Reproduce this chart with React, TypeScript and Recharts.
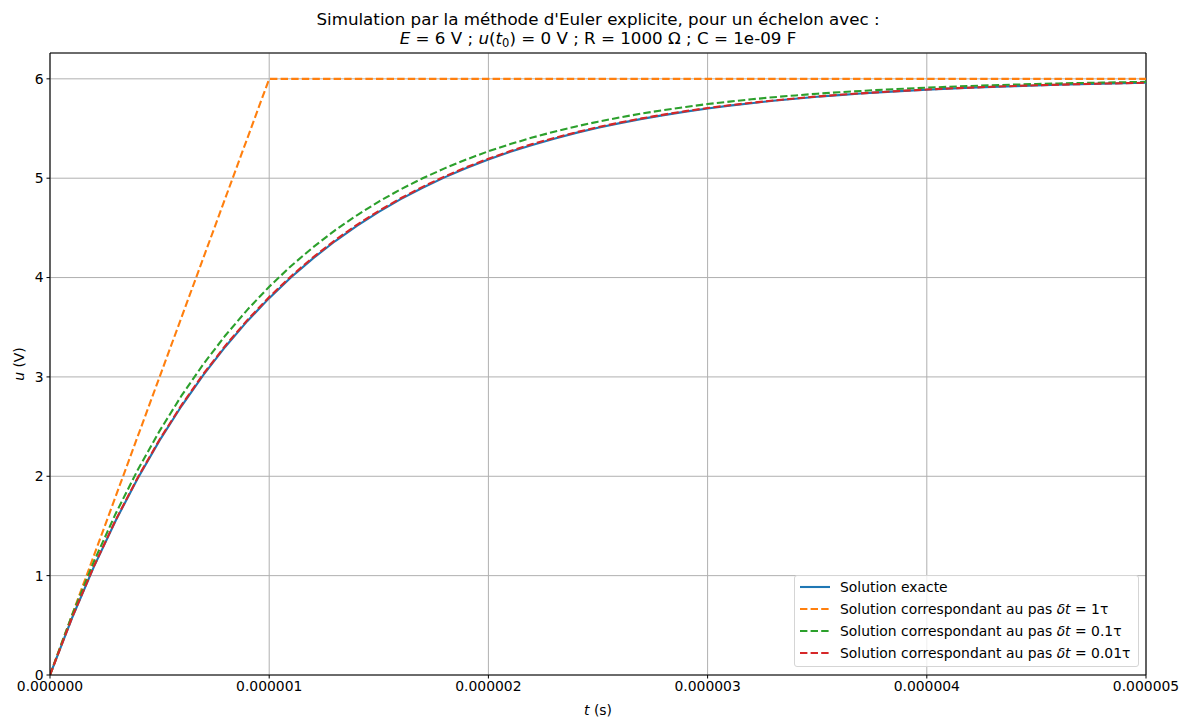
import React from "react";
import {
  LineChart,
  Line,
  XAxis,
  YAxis,
  CartesianGrid,
  ReferenceLine,
  Label,
} from "recharts";

// time grid in microseconds
const timeMicro = [
  0, 0.1, 0.2, 0.3, 0.4, 0.5, 0.6, 0.7, 0.8, 0.9,
  1.0, 1.1, 1.2, 1.3, 1.4, 1.5, 1.6, 1.7, 1.8, 1.9,
  2.0, 2.1, 2.2, 2.3, 2.4, 2.5, 2.6, 2.7, 2.8, 2.9,
  3.0, 3.1, 3.2, 3.3, 3.4, 3.5, 3.6, 3.7, 3.8, 3.9,
  4.0, 4.1, 4.2, 4.3, 4.4, 4.5, 4.6, 4.7, 4.8, 4.9, 5.0,
];

const exactValues = [
  0, 0.571, 1.088, 1.555, 1.978, 2.361, 2.707, 3.020, 3.304, 3.561,
  3.793, 4.003, 4.193, 4.365, 4.520, 4.661, 4.789, 4.904, 5.008, 5.103,
  5.188, 5.265, 5.335, 5.398, 5.456, 5.507, 5.554, 5.597, 5.635, 5.670,
  5.701, 5.730, 5.755, 5.779, 5.800, 5.819, 5.836, 5.852, 5.866, 5.879,
  5.890, 5.901, 5.910, 5.919, 5.926, 5.933, 5.940, 5.945, 5.951, 5.955, 5.960,
];

const euler1Time = [0, 1, 2, 3, 4, 5];
const euler1Values = [0, 6, 6, 6, 6, 6];

const euler01Values = [
  0, 0.600, 1.140, 1.626, 2.063, 2.457, 2.811, 3.130, 3.417, 3.675,
  3.908, 4.117, 4.305, 4.475, 4.627, 4.765, 4.888, 4.999, 5.099, 5.189,
  5.271, 5.343, 5.409, 5.468, 5.521, 5.569, 5.612, 5.651, 5.686, 5.717,
  5.746, 5.771, 5.794, 5.815, 5.833, 5.850, 5.865, 5.878, 5.891, 5.901,
  5.911, 5.920, 5.928, 5.935, 5.942, 5.948, 5.953, 5.958, 5.962, 5.966, 5.969,
];

const euler001Values = [
  0, 0.574, 1.093, 1.562, 1.986, 2.370, 2.717, 3.031, 3.315, 3.572,
  3.804, 4.014, 4.204, 4.375, 4.531, 4.671, 4.798, 4.913, 5.017, 5.111,
  5.196, 5.273, 5.343, 5.405, 5.462, 5.514, 5.560, 5.602, 5.640, 5.675,
  5.706, 5.734, 5.759, 5.782, 5.803, 5.822, 5.839, 5.854, 5.868, 5.881,
  5.892, 5.903, 5.912, 5.920, 5.928, 5.935, 5.941, 5.947, 5.952, 5.956, 5.961,
];

const xTicks = [0, 1e-6, 2e-6, 3e-6, 4e-6, 5e-6];
const yTicks = [0, 1, 2, 3, 4, 5, 6];

const titleLine1 = "Simulation par la méthode d'Euler explicite, pour un échelon avec :";

const seriesNames = [
  "Solution exacte",
  "Solution correspondant au pas δt = 1τ",
  "Solution correspondant au pas δt = 0.1τ",
  "Solution correspondant au pas δt = 0.01τ",
];

const build = (ts: number[], us: number[]) =>
  ts.map((t, i) => ({ t: t * 1e-6, u: us[i] }));

const exactData = build(timeMicro, exactValues);
const euler1Data = build(euler1Time, euler1Values);
const euler01Data = build(timeMicro, euler01Values);
const euler001Data = build(timeMicro, euler001Values);

const FONT = "'DejaVu Sans', sans-serif";
const W = 1194;
const H = 717;

const colors = ["#1f77b4", "#ff7f0e", "#2ca02c", "#d62728"];
const DASH = "7.4 3.2";

const LegendBox = () => {
  const labels = [
    <span>Solution exacte</span>,
    <span>
      Solution correspondant au pas <i>δt</i> = 1τ
    </span>,
    <span>
      Solution correspondant au pas <i>δt</i> = 0.1τ
    </span>,
    <span>
      Solution correspondant au pas <i>δt</i> = 0.01τ
    </span>,
  ];
  return (
    <div
      style={{
        position: "absolute",
        left: 794,
        top: 576,
        width: 345,
        height: 92,
        border: "1px solid #d5d5d5",
        borderRadius: 3,
        background: "rgba(255,255,255,0.8)",
        fontFamily: FONT,
        fontSize: 13.9,
        color: "#000",
        boxSizing: "border-box",
        paddingTop: 0,
        marginTop: -1,
      }}
      aria-label={seriesNames.join(" | ")}
    >
      {labels.map((l, i) => (
        <div
          key={i}
          style={{ display: "flex", alignItems: "center", height: 22, lineHeight: "22px" }}
        >
          <svg width={45} height={22} style={{ flex: "none" }}>
            <line
              x1={5}
              x2={35}
              y1={11}
              y2={11}
              stroke={colors[i]}
              strokeWidth={2.1}
              strokeDasharray={i === 0 ? undefined : DASH}
            />
          </svg>
          <span style={{ whiteSpace: "nowrap" }}>{l}</span>
        </div>
      ))}
    </div>
  );
};

export default function App() {
  return (
    <div
      style={{
        position: "absolute",
        left: 0,
        top: 0,
        width: W,
        height: H,
        background: "#fff",
        fontFamily: FONT,
      }}
    >
      <div
        style={{
          position: "absolute",
          left: 0,
          width: W,
          top: 10,
          textAlign: "center",
          fontSize: 16.7,
          lineHeight: "19px",
          color: "#000",
          paddingLeft: 2,
          boxSizing: "border-box",
        }}
      >
        <div>{titleLine1}</div>
        <div>
          <i>E</i> = 6 V ; <i>u</i>(<i>t</i>
          <sub style={{ fontSize: 11.5, verticalAlign: "-3px" }}>0</sub>) = 0 V ; R = 1000 Ω ; C = 1e-09 F
        </div>
      </div>
      <LineChart
        width={W}
        height={H}
        margin={{ top: 53, right: 48, left: 0, bottom: 0 }}
        style={{ position: "absolute", left: 0, top: 0 }}
      >
        <CartesianGrid stroke="#b0b0b0" strokeWidth={1} />
        <XAxis
          dataKey="t"
          type="number"
          domain={[0, 5e-6]}
          ticks={xTicks}
          tickFormatter={(v: number) => v.toFixed(6)}
          allowDataOverflow
          height={42}
          tickSize={3.5}
          tickMargin={3}
          stroke="#000"
          tick={{ fill: "#000", fontSize: 13.9, fontFamily: FONT }}
          axisLine={{ stroke: "#000", strokeWidth: 1.1 }}
          tickLine={{ stroke: "#000", strokeWidth: 1 }}
        >
          <Label
            content={() => (
              <text
                x={598}
                y={715}
                textAnchor="middle"
                fontFamily={FONT}
                fontSize={13.9}
                fill="#000"
              >
                <tspan fontStyle="italic">t</tspan>
                <tspan> (s)</tspan>
              </text>
            )}
          />
        </XAxis>
        <YAxis
          type="number"
          domain={[0, 6.26]}
          ticks={yTicks}
          allowDataOverflow
          width={50}
          tickSize={3.5}
          tickMargin={3}
          stroke="#000"
          tick={{ fill: "#000", fontSize: 13.9, fontFamily: FONT }}
          axisLine={{ stroke: "#000", strokeWidth: 1.1 }}
          tickLine={{ stroke: "#000", strokeWidth: 1 }}
        >
          <Label
            content={() => (
              <text
                x={24}
                y={364}
                textAnchor="middle"
                transform="rotate(-90 24 364)"
                fontFamily={FONT}
                fontSize={13.9}
                fill="#000"
              >
                <tspan fontStyle="italic">u</tspan>
                <tspan> (V)</tspan>
              </text>
            )}
          />
        </YAxis>
        <ReferenceLine y={6.26} stroke="#000" strokeWidth={1.1} ifOverflow="extendDomain" />
        <ReferenceLine x={5e-6} stroke="#000" strokeWidth={1.1} ifOverflow="extendDomain" />
        <Line
          data={exactData}
          dataKey="u"
          name={seriesNames[0]}
          stroke={colors[0]}
          strokeWidth={2.1}
          dot={false}
          type="linear"
          isAnimationActive={false}
        />
        <Line
          data={euler1Data}
          dataKey="u"
          name={seriesNames[1]}
          stroke={colors[1]}
          strokeWidth={2.1}
          strokeDasharray={DASH}
          dot={false}
          type="linear"
          isAnimationActive={false}
        />
        <Line
          data={euler01Data}
          dataKey="u"
          name={seriesNames[2]}
          stroke={colors[2]}
          strokeWidth={2.1}
          strokeDasharray={DASH}
          dot={false}
          type="linear"
          isAnimationActive={false}
        />
        <Line
          data={euler001Data}
          dataKey="u"
          name={seriesNames[3]}
          stroke={colors[3]}
          strokeWidth={2.1}
          strokeDasharray={DASH}
          dot={false}
          type="linear"
          isAnimationActive={false}
        />
      </LineChart>
      <LegendBox />
    </div>
  );
}
